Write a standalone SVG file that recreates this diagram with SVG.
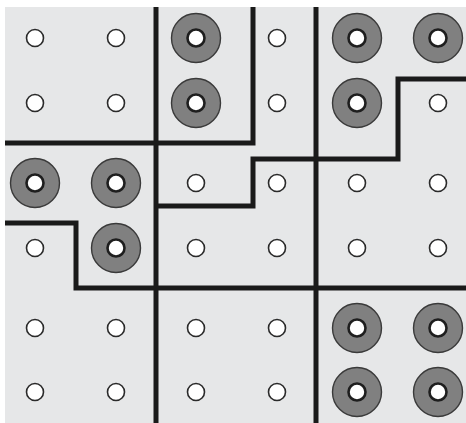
<svg xmlns="http://www.w3.org/2000/svg" width="466" height="423" viewBox="0 0 466 423">
<defs>
<style>
.bg{fill:#e6e7e8}
.s{fill:#ffffff;stroke:#2a2a2a;stroke-width:1.6}
.b{fill:#808080;stroke:#3a3a3a;stroke-width:1.4}
.bi{fill:#ffffff;stroke:#1e1e1e;stroke-width:2.6}
.ln{fill:none;stroke:#1a1a1a;stroke-width:5;stroke-linejoin:miter;stroke-linecap:butt}
</style>
<g id="small"><circle class="s" r="8.5"/></g>
<g id="big"><circle class="b" r="24.5"/><circle class="bi" r="8.5"/></g>
</defs>
<rect class="bg" x="5" y="7" width="461" height="416"/>
<g id="nodes">
<g id="n11"><use href="#small" x="35" y="38"/></g>
<g id="n12"><use href="#small" x="116" y="38"/></g>
<g id="n13"><use href="#big" x="196" y="38"/></g>
<g id="n14"><use href="#small" x="277" y="38"/></g>
<g id="n15"><use href="#big" x="357" y="38"/></g>
<g id="n16"><use href="#big" x="438" y="38"/></g>
<g id="n21"><use href="#small" x="35" y="103"/></g>
<g id="n22"><use href="#small" x="116" y="103"/></g>
<g id="n23"><use href="#big" x="196" y="103"/></g>
<g id="n24"><use href="#small" x="277" y="103"/></g>
<g id="n25"><use href="#big" x="357" y="103"/></g>
<g id="n26"><use href="#small" x="438" y="103"/></g>
<g id="n31"><use href="#big" x="35" y="183"/></g>
<g id="n32"><use href="#big" x="116" y="183"/></g>
<g id="n33"><use href="#small" x="196" y="183"/></g>
<g id="n34"><use href="#small" x="277" y="183"/></g>
<g id="n35"><use href="#small" x="357" y="183"/></g>
<g id="n36"><use href="#small" x="438" y="183"/></g>
<g id="n41"><use href="#small" x="35" y="248"/></g>
<g id="n42"><use href="#big" x="116" y="248"/></g>
<g id="n43"><use href="#small" x="196" y="248"/></g>
<g id="n44"><use href="#small" x="277" y="248"/></g>
<g id="n45"><use href="#small" x="357" y="248"/></g>
<g id="n46"><use href="#small" x="438" y="248"/></g>
<g id="n51"><use href="#small" x="35" y="328"/></g>
<g id="n52"><use href="#small" x="116" y="328"/></g>
<g id="n53"><use href="#small" x="196" y="328"/></g>
<g id="n54"><use href="#small" x="277" y="328"/></g>
<g id="n55"><use href="#big" x="357" y="328"/></g>
<g id="n56"><use href="#big" x="438" y="328"/></g>
<g id="n61"><use href="#small" x="35" y="392"/></g>
<g id="n62"><use href="#small" x="116" y="392"/></g>
<g id="n63"><use href="#small" x="196" y="392"/></g>
<g id="n64"><use href="#small" x="277" y="392"/></g>
<g id="n65"><use href="#big" x="357" y="392"/></g>
<g id="n66"><use href="#big" x="438" y="392"/></g>
</g>
<g id="connectors">
<path class="ln" d="M156 7V423"/>
<path class="ln" d="M316 7V423"/>
<path class="ln" d="M5 143H253V7"/>
<path class="ln" d="M156 206H253V159H398V79H466"/>
<path class="ln" d="M5 223H76V288H466"/>
</g>
</svg>
